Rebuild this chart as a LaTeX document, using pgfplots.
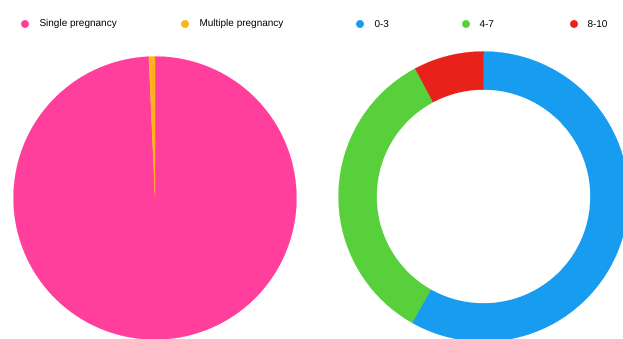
\documentclass[border=0pt]{standalone}
\usepackage{pgfplots}
\pgfplotsset{compat=1.18}
\usepackage{fontspec}
\setmainfont{Liberation Sans}
\definecolor{cpink}{HTML}{FF3F9B}
\definecolor{corange}{HTML}{FFB21A}
\definecolor{cblue}{HTML}{179CF0}
\definecolor{cgreen}{HTML}{57D03C}
\definecolor{cred}{HTML}{E8221A}
\definecolor{ctext}{HTML}{606060}
% data (percent)
\def\vSingle{99.3}
\def\vMultiple{0.7}
\def\vA{58.2}
\def\vB{34.0}
\def\vC{7.8}
\begin{document}
\begin{tikzpicture}
\begin{axis}[x=1pt,y=1pt,xmin=0,xmax=623,ymin=0,ymax=339,hide axis,
  every node/.style={font=\fontsize{8}{9}\selectfont, text=ctext}]
\coordinate (bl) at (axis cs:0,0);
\coordinate (tr) at (axis cs:623,339);
% left pie
\addplot[fill=cpink, draw=cpink, line width=0.2pt, domain={90-3.6*\vSingle}:90, samples=300, variable=\t]
  ({155+141.5*cos(t)},{141+141.5*sin(t)}) -- (axis cs:155,141) -- cycle;
\addplot[fill=corange, draw=corange, line width=0.2pt, domain={-270}:{90-3.6*\vSingle}, samples=10, variable=\t]
  ({155+141.5*cos(t)},{141+141.5*sin(t)}) -- (axis cs:155,141) -- cycle;
% donut
\addplot[fill=cblue, draw=cblue, line width=0.2pt, domain={90-3.6*\vA}:90, samples=300, variable=\t]
  ({483.5+145*cos(t)},{142.5+145*sin(t)}) -- (axis cs:483.5,142.5) -- cycle;
\addplot[fill=cgreen, draw=cgreen, line width=0.2pt, domain={90-3.6*(\vA+\vB)}:{90-3.6*\vA}, samples=200, variable=\t]
  ({483.5+145*cos(t)},{142.5+145*sin(t)}) -- (axis cs:483.5,142.5) -- cycle;
\addplot[fill=cred, draw=cred, line width=0.2pt, domain={-270}:{90-3.6*(\vA+\vB)}, samples=60, variable=\t]
  ({483.5+145*cos(t)},{142.5+145*sin(t)}) -- (axis cs:483.5,142.5) -- cycle;
\addplot[fill=white, draw=white, line width=0.3pt, domain=0:360, samples=300, variable=\t]
  ({483.5+106.5*cos(t)},{142.5+106.5*sin(t)}) -- cycle;
% legends
\addplot[only marks, mark=*, mark size=3.8pt, color=cpink] coordinates {(25,315)};
\node[anchor=west] at (axis cs:36,315) {Single pregnancy};
\addplot[only marks, mark=*, mark size=3.8pt, color=corange] coordinates {(185,315)};
\node[anchor=west] at (axis cs:196,315) {Multiple pregnancy};
\addplot[only marks, mark=*, mark size=3.8pt, color=cblue] coordinates {(360,315)};
\node[anchor=west] at (axis cs:371,315) {0-3};
\addplot[only marks, mark=*, mark size=3.8pt, color=cgreen] coordinates {(466,315)};
\node[anchor=west] at (axis cs:476,315) {4-7};
\addplot[only marks, mark=*, mark size=3.8pt, color=cred] coordinates {(574,315)};
\node[anchor=west] at (axis cs:584,315) {8-10};
\end{axis}
\pgfresetboundingbox
\path[use as bounding box] (bl) rectangle (tr);
\end{tikzpicture}
\end{document}
